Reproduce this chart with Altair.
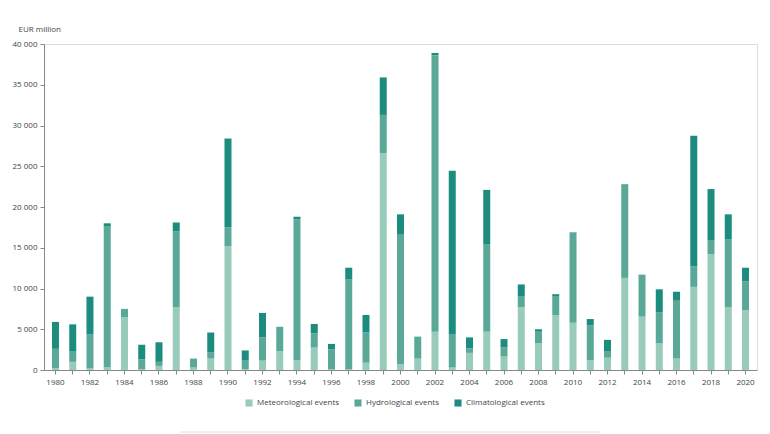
import altair as alt
import pandas as pd

years = list(range(1980, 2021))
meteorological = [0.2, 1.0, 0.2, 0.3, 6.5, 0.1, 0.5, 7.7, 0.3, 1.4,
                  15.2, 0.1, 1.15, 2.3, 1.2, 2.75, 0.1, 0.1, 0.9, 26.6,
                  0.7, 1.4, 4.7, 0.3, 2.1, 4.7, 1.65, 7.7, 3.3, 6.75,
                  5.8, 1.2, 1.5, 11.3, 6.55, 3.3, 1.4, 10.2, 14.2, 7.7, 7.35]
hydrological = [2.4, 1.25, 4.2, 17.3, 1.0, 1.2, 0.5, 9.3, 1.1, 0.8,
                2.3, 1.05, 2.85, 3.0, 17.3, 1.75, 2.45, 11.0, 3.7, 4.7,
                15.9, 2.7, 33.9, 4.1, 0.55, 10.75, 1.15, 1.3, 1.4, 2.25,
                11.1, 4.3, 0.75, 11.5, 5.15, 3.75, 7.1, 2.5, 1.75, 8.3, 3.55]
climatological = [3.3, 3.35, 4.6, 0.4, 0.0, 1.8, 2.4, 1.1, 0.0, 2.4,
                  10.9, 1.25, 3.0, 0.0, 0.3, 1.15, 0.65, 1.45, 2.15, 4.6,
                  2.5, 0.0, 0.3, 20.05, 1.35, 6.65, 1.0, 1.5, 0.3, 0.3,
                  0.0, 0.75, 1.45, 0.0, 0.0, 2.85, 1.1, 16.05, 6.25, 3.1, 1.65]

series = ["Meteorological events", "Hydrological events", "Climatological events"]
colors = ["#98cbb9", "#5aa898", "#1c8c7e"]

rows = []
for i, y in enumerate(years):
    for k, (name, vals) in enumerate(zip(series, [meteorological, hydrological, climatological])):
        rows.append({"year": y, "type": name, "value": vals[i] * 1000, "order": k})
df = pd.DataFrame(rows)

font = "Open Sans"

bars = alt.Chart(df).mark_bar(width=7).encode(
    x=alt.X("year:O",
            scale=alt.Scale(paddingInner=0.594, paddingOuter=0.462),
            axis=alt.Axis(title=None, labelAngle=0,
                          labelExpr="datum.value % 2 == 0 ? datum.label : ''",
                          labelFont=font, labelFontSize=8, labelColor="#444",
                          domainColor="#888", tickColor="#888", tickSize=4,
                          labelPadding=4)),
    y=alt.Y("value:Q", stack="zero",
            scale=alt.Scale(domain=[0, 40000], nice=False),
            axis=alt.Axis(values=list(range(0, 40001, 5000)), grid=False,
                          labelExpr="replace(format(datum.value, ','), ',', ' ')",
                          title="EUR million", titleAngle=0, titleAlign="left",
                          titleBaseline="middle",
                          titleX=-26, titleY=-15, titleFont=font, titleFontSize=8,
                          titleFontWeight="normal", titleColor="#444",
                          labelFont=font, labelFontSize=8, labelColor="#444",
                          domainColor="#888", tickColor="#888", tickSize=4,
                          labelPadding=3)),
    color=alt.Color("type:N", scale=alt.Scale(domain=series, range=colors),
                    legend=alt.Legend(title=None, orient="none", direction="horizontal",
                                      legendX=201, legendY=355, symbolType="square",
                                      symbolSize=50, symbolStrokeWidth=0,
                                      labelFont=font, labelFontSize=8, labelColor="#444",
                                      columnPadding=14)),
    order=alt.Order("order:Q", sort="ascending"),
)

sep = alt.Chart(pd.DataFrame({"a": [0]})).mark_rule(color="#dddddd", strokeWidth=1).encode(
    x=alt.value(136), x2=alt.value(556), y=alt.value(388)
)

chart = alt.layer(bars, sep).properties(
    width=713, height=326,
    autosize=alt.AutoSizeParams(type="none"),
    padding={"left": 44, "top": 44, "right": 13, "bottom": 64},
).configure_view(stroke=None).configure(background="white")

chart.save("out.html", embed_options={"renderer": "svg", "actions": False})
